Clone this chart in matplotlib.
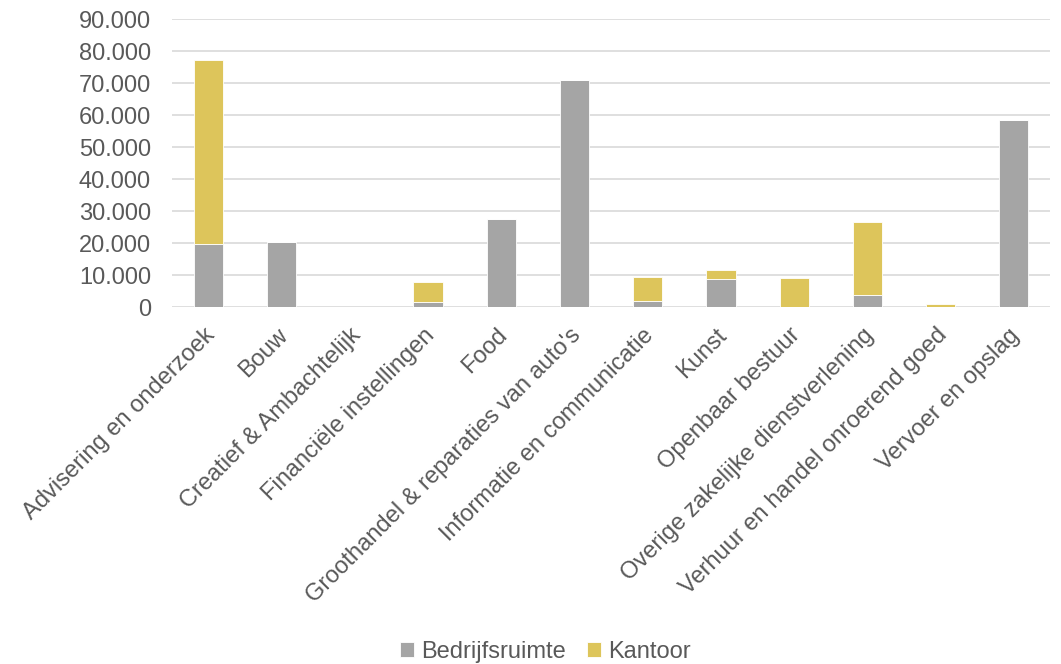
import matplotlib.pyplot as plt
import matplotlib.ticker as mticker
import matplotlib.transforms as mtransforms
import numpy as np

plt.rcParams["font.family"] = ["Liberation Sans", "DejaVu Sans"]

categories = [
    "Advisering en onderzoek", "Bouw", "Creatief & Ambachtelijk",
    "Financiële instellingen", "Food", "Groothandel & reparaties van auto's",
    "Informatie en communicatie", "Kunst", "Openbaar bestuur",
    "Overige zakelijke dienstverlening", "Verhuur en handel onroerend goed",
    "Vervoer en opslag",
]
bedrijfsruimte = [19700, 20500, 0, 1800, 27500, 71000, 2100, 8800, 0, 3900, 0, 58600]
kantoor = [57600, 0, 0, 6200, 0, 0, 7500, 2800, 9300, 22700, 1000, 0]

gray = "#A5A5A5"
yellow = "#DDC55B"
text_col = "#595959"
fs = 17

fig = plt.figure(figsize=(10.61, 6.64), dpi=100)
ax = fig.add_axes([0.162, 0.537, 0.828, 0.434])

x = np.arange(len(categories))
w = 0.4
ax.bar(x, bedrijfsruimte, w, color=gray, edgecolor="white", linewidth=0.6,
       label="Bedrijfsruimte", zorder=3)
ax.bar(x, kantoor, w, bottom=bedrijfsruimte, color=yellow, edgecolor="white",
       linewidth=0.6, label="Kantoor", zorder=3)

ax.set_xlim(-0.5, len(categories) - 0.5)
ax.set_ylim(0, 90000)
ax.set_yticks(np.arange(0, 90001, 10000))
ax.yaxis.set_major_formatter(
    mticker.FuncFormatter(lambda v, p: f"{int(v):,}".replace(",", ".")))
ax.grid(axis="y", color="#D9D9D9", linewidth=1.2, zorder=0)
for s in ax.spines.values():
    s.set_visible(False)
ax.tick_params(axis="y", length=0, labelsize=fs, labelcolor=text_col, pad=15)
ax.tick_params(axis="x", length=0, labelsize=fs, labelcolor=text_col, pad=12)
ax.set_xticks(x)
ax.set_xticklabels(categories, rotation=45, ha="right", rotation_mode="anchor")
# nudge labels a bit left, like the original
shift = mtransforms.ScaledTranslation(-5 / 100, 0, fig.dpi_scale_trans)
for lab in ax.get_xticklabels():
    lab.set_transform(lab.get_transform() + shift)

fig.legend(loc="center", bbox_to_anchor=(0.514, 0.018), ncol=2,
           frameon=False, fontsize=fs, labelcolor=text_col, handlelength=0.6,
           handleheight=0.6, handletextpad=0.3, columnspacing=0.9)

fig.savefig("out.png", dpi=100)
